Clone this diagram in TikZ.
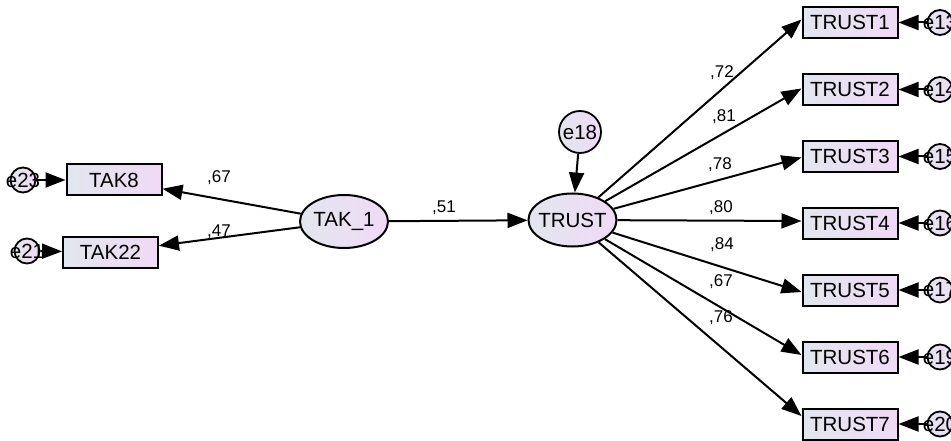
\documentclass[tikz,border=0pt]{standalone}
\usepackage{fontspec}
\setmainfont{Liberation Sans}
\usetikzlibrary{arrows.meta,shapes.geometric}
\definecolor{fillL}{RGB}{226,230,238}
\definecolor{fillR}{RGB}{240,218,246}
\begin{document}
\begin{tikzpicture}[x=1pt,y=-1pt,
  nodetext/.style={font=\fontsize{20.5}{21}\selectfont},
  obs/.style={nodetext, draw, line width=2pt, rectangle, minimum width=95pt,
    minimum height=31pt, inner sep=0pt, left color=fillL, right color=fillR},
  lat/.style={nodetext, draw, ellipse, line width=2pt, minimum width=88pt,
    minimum height=53pt, inner xsep=-4pt, inner ysep=0pt,
    left color=fillL, right color=fillR},
  err/.style={nodetext, draw, circle, line width=1.8pt, minimum size=25pt,
    inner sep=-6pt, left color=fillL, right color=fillR},
  bigerr/.style={err, minimum size=42pt},
  reg/.style={line width=2pt, -{Triangle[length=20pt,width=15pt]}},
  coef/.style={font=\fontsize{17}{17}\selectfont, inner sep=0pt}
]
\useasboundingbox (0,0) rectangle (951,441);

% latent variables
\node[lat] (tak1) at (344,221.5) {TAK\_1};
\node[lat] (trust) at (572.5,220) {TRUST};
\node[bigerr] (e18) at (580,132) {e18};

% indicators of TAK_1
\node[obs] (tak8) at (114,180) {TAK8};
\node[obs] (tak22) at (110.5,252) {TAK22};
\node[err] (e23) at (23,180) {e23};
\node[err] (e21) at (27,251) {e21};

% indicators of TRUST
\foreach \i/\y/\e in {1/22.5/e13, 2/89.5/e14, 3/156.5/e15, 4/223/e16,
                      5/290/e17, 6/357/e19, 7/424/e20} {
  \node[obs] (t\i) at (850,\y) {TRUST\i};
  \node[err] (r\i) at (940,\y) {\e};
  \draw[reg] (r\i) -- (t\i);
}

% structural paths
\draw[reg] (tak1) -- (tak8);
\draw[reg] (tak1) -- (tak22);
\draw[reg] (e23) -- (tak8);
\draw[reg] (e21) -- (tak22);
\draw[reg] (tak1) -- (trust);
\draw[reg] (e18) -- (trust);

\draw[reg] (trust) -- ([yshift=3pt]t1.west);
\draw[reg] (trust) -- ([yshift=1pt]t2.west);
\draw[reg] (trust) -- ([yshift=-1pt]t3.west);
\draw[reg] (trust) -- ([yshift=2pt]t4.west);
\draw[reg] (trust) -- ([yshift=-2pt]t5.west);
\draw[reg] (trust) -- ([yshift=2pt]t6.west);
\draw[reg] (trust) -- ([yshift=8pt]t7.west);

% standardized loadings
\node[coef] (c67a) at (219,178) {,67};
\node[coef] (c47) at (219,232) {,47};
\node[coef] (c51) at (444,208) {,51};
\node[coef] (c72) at (722,73) {,72};
\node[coef] (c81) at (724,117) {,81};
\node[coef] (c78) at (720,165) {,78};
\node[coef] (c80) at (721,208) {,80};
\node[coef] (c84) at (722,245) {,84};
\node[coef] (c67b) at (721,282) {,67};
\node[coef] (c76) at (721,318) {,76};
\end{tikzpicture}
\end{document}
